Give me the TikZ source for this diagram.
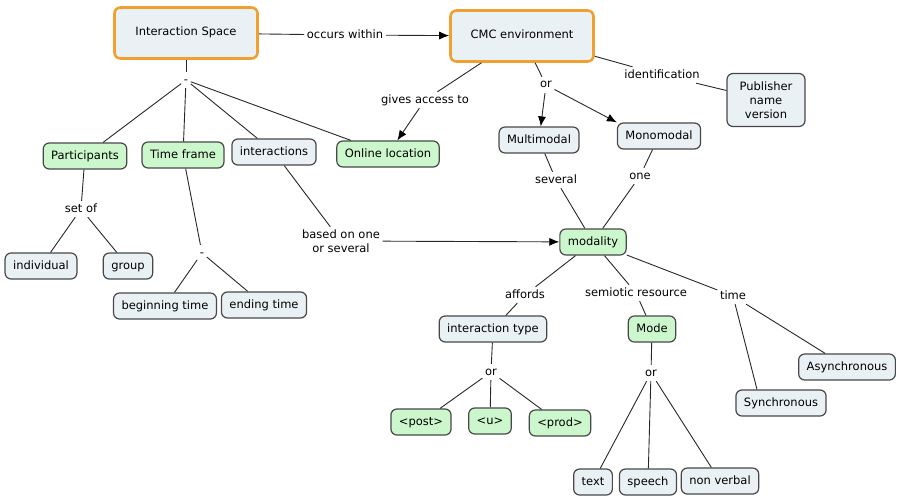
\documentclass[tikz,border=0pt]{standalone}
\usepackage{fontspec}
\setmainfont{DejaVu Sans}
\usetikzlibrary{arrows.meta}
\tikzset{>={Latex[length=10pt,width=8pt,black]}}
\definecolor{cfill}{RGB}{234,241,245}
\definecolor{gfill}{RGB}{204,247,204}
\definecolor{orng}{RGB}{240,160,48}
\definecolor{edge}{RGB}{72,72,72}
\definecolor{cline}{RGB}{40,40,40}
\newcommand{\mapfont}{\fontsize{11.5}{14}\selectfont}
\tikzset{box/.style={draw=edge, line width=1.2pt, fill=cfill, rounded corners=6pt,
  minimum height=26pt, inner xsep=8pt, text height=8.5pt, text depth=2.5pt, font=\mapfont}}
\tikzset{gbox/.style={box, fill=gfill}}
\tikzset{mainbox/.style={box, draw=orng, line width=2.6pt, minimum width=143pt, minimum height=51pt}}
\tikzset{lnk/.style={fill=white, inner sep=2.5pt, text height=8.5pt, text depth=2.5pt, font=\mapfont}}
\tikzset{con/.style={draw=cline, line width=0.9pt}}

\begin{document}
\begin{tikzpicture}[x=1pt, y=-1pt]
    \useasboundingbox[fill=white] (0,0) rectangle (899,495);
    \node[mainbox] (is) at (186,33) {Interaction Space};
    \node[mainbox] (cmc) at (522,36) {CMC environment};
    \node[lnk] (occ) at (345,35) {occurs within};
    \node[lnk] (d1) at (186,80) {-};
    \node[gbox] (part) at (85,156) {Participants};
    \node[gbox] (tf) at (183,155) {Time frame};
    \node[box] (inter) at (274,152) {interactions};
    \node[gbox] (onl) at (388,154) {Online location};
    \node[lnk] (setof) at (81,209) {set of};
    \node[box] (indiv) at (41,266) {individual};
    \node[box] (grp) at (128,266) {group};
    \node[lnk] (d2) at (202,253) {-};
    \node[box] (beg) at (165,306) {beginning time};
    \node[box] (fin) at (264,305) {ending time};
    \node[lnk, align=center, text height={}, text depth={}] (based) at (341,241) {based on one\\or several};
    \node[gbox] (mod) at (593,242) {modality};
    \node[lnk] (gives) at (425,100) {gives access to};
    \node[lnk] (or1) at (546,85) {or};
    \node[box] (multi) at (539,140) {Multimodal};
    \node[box] (mono) at (659,136) {Monomodal};
    \node[lnk] (ident) at (662,75) {identification};
    \node[box, align=center, text height={}, text depth={}, minimum width=78pt, minimum height=53pt] (pub) at (766,100) {Publisher\\name\\version};
    \node[lnk] (sev) at (556,180) {several};
    \node[lnk] (one) at (640,176) {one};
    \node[lnk] (aff) at (525,295) {affords};
    \node[lnk] (semi) at (636,293) {semiotic resource};
    \node[lnk] (time) at (733,296) {time};
    \node[box] (itype) at (493,329) {interaction type};
    \node[gbox] (mode) at (652,329) {Mode};
    \node[lnk] (or2) at (491,372) {or};
    \node[gbox] (post) at (421,422) {<post>};
    \node[gbox] (u) at (490,421) {<u>};
    \node[gbox] (prod) at (560,423) {<prod>};
    \node[lnk] (or3) at (651,373) {or};
    \node[box] (txt) at (593,482) {text};
    \node[box] (speech) at (648,482) {speech};
    \node[box] (nonv) at (720,481) {non verbal};
    \node[box] (sync) at (781,403) {Synchronous};
    \node[box] (async) at (847,367) {Asynchronous};

    \begin{scope}[con]
        \draw (is) -- (occ);
        \draw[->] (occ) -- (cmc);
        \draw (is) -- (d1);
        \foreach \n in {part, tf, inter, onl} \draw (d1) -- (\n);
        \draw (part) -- (setof);
        \draw (setof) -- (indiv);
        \draw (setof) -- (grp);
        \draw (tf) -- (d2);
        \draw (d2) -- (beg);
        \draw (d2) -- (fin);
        \draw (inter) -- (based);
        \draw[->] (based) -- (mod);
        \draw (cmc) -- (gives);
        \draw[->] (gives) -- (onl);
        \draw (cmc) -- (or1);
        \draw[->] (or1) -- (multi);
        \draw[->] (or1) -- (mono.north west);
        \draw (cmc) -- (ident);
        \draw (ident) -- (pub);
        \draw (multi) -- (sev);
        \draw (sev) -- (mod);
        \draw (mono) -- (one);
        \draw (one) -- (mod);
        \draw (mod) -- (aff);
        \draw (aff) -- (itype);
        \draw (mod) -- (semi);
        \draw (semi) -- (mode);
        \draw (mod) -- (time);
        \draw (time) -- ([xshift=-24pt]sync.north);
        \draw (time) -- (async);
        \draw (itype) -- (or2);
        \foreach \n in {post, u, prod} \draw (or2) -- (\n);
        \draw (mode) -- (or3);
        \foreach \n in {txt, speech, nonv} \draw (or3) -- (\n);
    \end{scope}
\end{tikzpicture}
\end{document}
